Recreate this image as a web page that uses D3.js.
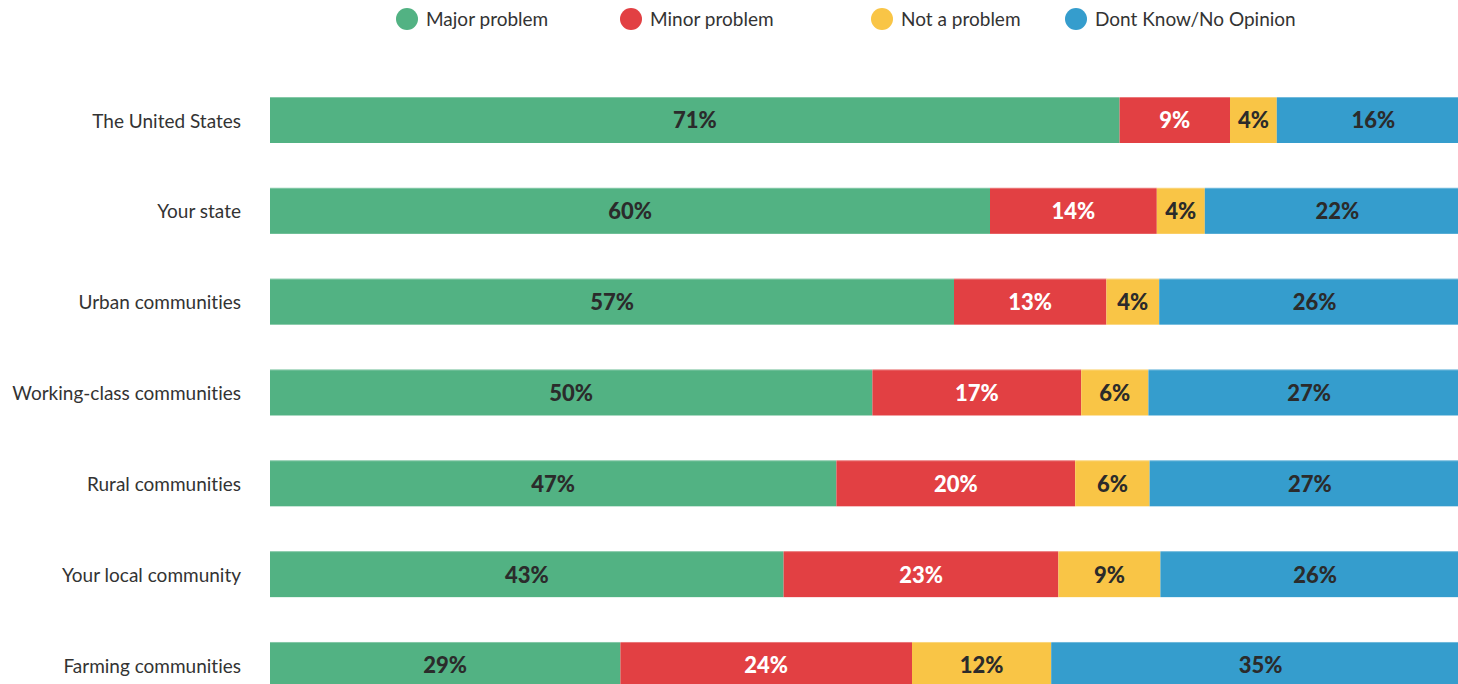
<!DOCTYPE html>
<html>
<head>
<meta charset="utf-8">
<script src="https://cdn.jsdelivr.net/npm/d3@7"></script>
<style>
  html, body { margin: 0; padding: 0; background: #fff; overflow: hidden; }
  svg { display: block; }
  text { font-variant-ligatures: none; font-feature-settings: "liga" 0; }
</style>
</head>
<body>
<svg id="chart" width="1458" height="684"></svg>
<script>
// ---- data ----
const categories = [
  "The United States",
  "Your state",
  "Urban communities",
  "Working-class communities",
  "Rural communities",
  "Your local community",
  "Farming communities"
];
const seriesNames = ["Major problem", "Minor problem", "Not a problem", "Dont Know/No Opinion"];
const majorProblem = [70.8, 60.0, 57.0, 50.2, 47.2, 42.8, 29.2];
const minorProblem = [9.2, 13.9, 12.7, 17.4, 19.9, 22.9, 24.3];
const notAProblem  = [3.9, 4.0, 4.4, 5.6, 6.2, 8.5, 11.6];
const dontKnow     = [16.1, 22.1, 25.9, 26.8, 26.7, 25.8, 34.9];
const labelMajor = ["71%", "60%", "57%", "50%", "47%", "43%", "29%"];
const labelMinor = ["9%", "14%", "13%", "17%", "20%", "23%", "24%"];
const labelNot   = ["4%", "4%", "4%", "6%", "6%", "9%", "12%"];
const labelDK    = ["16%", "22%", "26%", "27%", "27%", "26%", "35%"];
const colors = ["#52b283", "#e24043", "#f9c546", "#359dcd"];

// ---- layout ----
const svg = d3.select("#chart");
const left = 270, right = 1470;
const step = 90.83, bw = 46, firstTop = 97;
const pin = (step - bw) / step;

const rows = categories.map((c, i) => ({
  cat: c,
  vals: [majorProblem[i], minorProblem[i], notAProblem[i], dontKnow[i]],
  labels: [labelMajor[i], labelMinor[i], labelNot[i], labelDK[i]]
}));
rows.forEach(r => { r.total = d3.sum(r.vals); });

const x = d3.scaleLinear().domain([0, 100]).range([left, right]);
const y = d3.scaleBand().domain(categories)
  .range([firstTop - pin * step / 2, firstTop - pin * step / 2 + categories.length * step])
  .paddingInner(pin).paddingOuter(pin / 2);

const stackData = rows.map(r => {
  const o = { cat: r.cat };
  seriesNames.forEach((s, j) => { o[s] = r.vals[j] / r.total * 100; });
  return o;
});
const stacked = d3.stack().keys(seriesNames)(stackData);

const font = "'Lato', 'Noto Sans', sans-serif";

// bars
const g = svg.append("g");
stacked.forEach((layer, j) => {
  const lg = g.append("g");
  lg.selectAll("rect").data(layer).enter().append("rect")
    .attr("x", d => x(d[0]))
    .attr("y", d => y(d.data.cat))
    .attr("width", d => x(d[1]) - x(d[0]))
    .attr("height", y.bandwidth())
    .attr("fill", colors[j]);
  lg.selectAll("text").data(layer).enter().append("text")
    .attr("x", d => (x(d[0]) + x(d[1])) / 2)
    .attr("y", d => y(d.data.cat) + y.bandwidth() / 2)
    .attr("dy", "0.38em")
    .attr("text-anchor", "middle")
    .style("font-family", font)
    .style("font-weight", 900)
    .style("font-size", "22px")
    .attr("fill", j === 1 ? "#ffffff" : "#2b2b2b")
    .text((d, i) => rows[i].labels[j]);
});

// thin light top edge
g.selectAll("line.edge").data(categories).enter().append("line")
  .attr("x1", left).attr("x2", right)
  .attr("y1", d => y(d) + 0.5).attr("y2", d => y(d) + 0.5)
  .attr("stroke", "#ffffff").attr("stroke-opacity", 0.3);

// category axis
const yAxis = d3.axisLeft(y).tickSize(0).tickPadding(29);
const ag = svg.append("g").attr("transform", `translate(${left},0)`).call(yAxis);
ag.select(".domain").remove();
ag.selectAll("text")
  .attr("dy", "0.4em")
  .style("font-family", font)
  .style("font-size", "19px")
  .attr("fill", "#333333");

// legend
const legendX = [407, 631, 882, 1076];
const lg = svg.append("g");
seriesNames.forEach((s, j) => {
  lg.append("circle").attr("cx", legendX[j]).attr("cy", 19).attr("r", 11).attr("fill", colors[j]);
  lg.append("text").attr("x", legendX[j] + 19).attr("y", 19).attr("dy", "0.38em")
    .style("font-family", font).style("font-size", "19px").attr("fill", "#333333").text(s);
});
</script>
</body>
</html>
